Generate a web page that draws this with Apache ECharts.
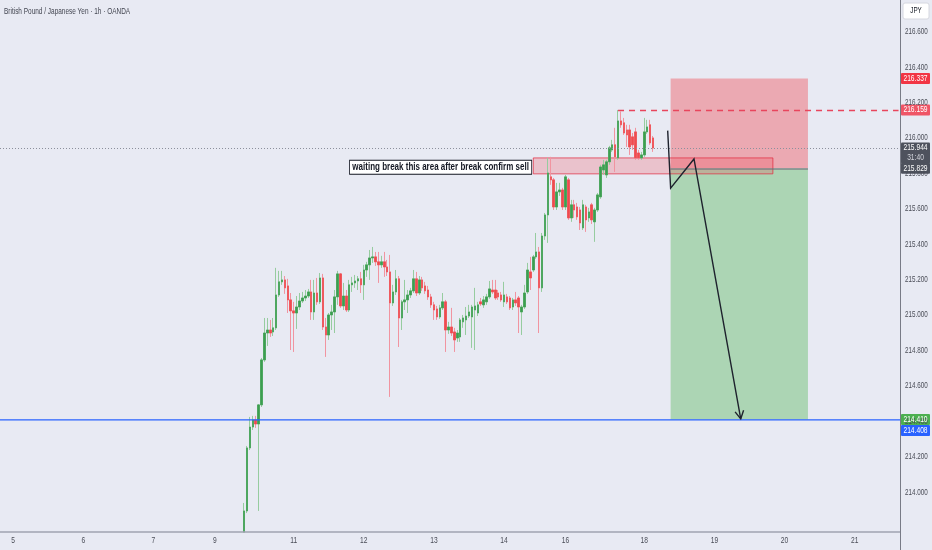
<!DOCTYPE html>
<html><head><meta charset="utf-8">
<script src="https://cdn.jsdelivr.net/npm/echarts@6/dist/echarts.min.js"></script>
<style>html,body{margin:0;padding:0;background:#e8eaf3}#c{width:932px;height:550px}</style>
</head><body><div id="c"></div>
<script>
const FONT = "'Liberation Sans','DejaVu Sans',sans-serif";
const NARROW = 0.74; // horizontal squeeze of the screenshot's text

// ---- time axis (hourly sessions) ----
const sessionDays  = [4, 5, 6, 7, 9, 10, 11, 12, 13, 14, 16, 17, 18, 19, 20, 21];
const sessionStart = [20, 0, 0, 0, 21, 0, 0, 0, 0, 0, 21, 0, 0, 0, 0, 0];
const sessionHours = [4, 24, 24, 21, 3, 24, 24, 24, 24, 21, 3, 24, 24, 24, 24, 16];
const dayTickLabels = ['5','6','7','9','11','12','13','14','16','18','19','20','21'];
const priceTicks = [214.0,214.2,214.4,214.6,214.8,215.0,215.2,215.4,215.6,215.8,216.0,216.2,216.4,216.6];
const firstCandleTime = '10 07:00';

// ---- OHLC (GBP/JPY 1h) ----
const opens = [213.702,213.894,214.250,214.368,214.408,214.385,214.493,214.747,214.899,214.916,214.905,214.928,215.114,215.188,215.199,215.165,215.086,215.024,215.012,215.046,215.080,215.097,215.108,215.131,215.018,215.125,215.075,215.210,214.933,214.888,215.001,215.018,215.103,215.233,215.052,215.108,215.029,215.171,215.182,215.193,215.205,215.171,215.255,215.284,215.323,215.329,215.301,215.284,215.301,215.272,215.244,215.069,215.131,215.205,214.984,215.075,215.086,215.114,215.137,215.205,215.125,215.199,215.165,215.142,215.103,215.058,215.035,214.990,215.041,215.075,214.916,214.933,214.905,214.871,214.877,214.962,214.973,214.995,214.990,215.029,215.012,215.075,215.058,215.075,215.103,215.142,215.142,215.125,215.114,215.075,215.103,215.097,215.046,215.086,215.097,215.018,215.046,215.131,215.244,215.255,215.329,215.357,215.154,215.447,215.566,215.781,215.764,215.611,215.696,215.707,215.611,215.764,215.549,215.623,215.611,215.594,215.493,215.611,215.549,215.623,215.527,215.594,215.668,215.820,215.792,215.866,215.933,215.962,215.888,216.097,216.086,216.046,216.046,216.007,216.035,215.916,215.888,215.905,216.035,216.075,216.001];
const closes = [213.894,214.250,214.368,214.408,214.385,214.493,214.747,214.899,214.916,214.899,214.928,215.114,215.188,215.199,215.154,215.086,215.024,215.012,215.046,215.080,215.097,215.108,215.131,215.018,215.125,215.075,215.210,214.933,214.888,215.001,215.018,215.103,215.233,215.052,215.108,215.029,215.171,215.182,215.193,215.205,215.171,215.255,215.284,215.323,215.329,215.301,215.284,215.301,215.272,215.244,215.069,215.131,215.205,214.984,215.075,215.086,215.114,215.137,215.205,215.125,215.199,215.154,215.137,215.103,215.058,215.029,214.990,215.041,215.075,214.916,214.933,214.899,214.860,214.899,214.973,214.984,214.995,215.018,215.046,215.052,215.058,215.063,215.086,215.103,215.148,215.131,215.097,215.103,215.086,215.114,215.075,215.041,215.086,215.069,215.046,215.046,215.125,215.255,215.210,215.329,215.357,215.154,215.447,215.566,215.803,215.764,215.611,215.696,215.707,215.611,215.781,215.549,215.623,215.594,215.555,215.521,215.623,215.538,215.583,215.538,215.594,215.679,215.837,215.849,215.866,215.945,215.962,215.894,216.097,216.075,216.029,216.018,215.950,215.962,215.888,215.888,215.905,216.035,216.063,215.973,215.944];
const highs = [213.939,214.261,214.425,214.431,214.431,214.498,214.758,214.984,214.984,214.973,214.984,215.267,215.250,215.250,215.221,215.205,215.125,215.075,215.108,215.125,215.131,215.142,215.148,215.199,215.199,215.210,215.238,215.233,214.984,215.012,215.058,215.142,215.250,215.238,215.182,215.142,215.199,215.216,215.227,215.221,215.244,215.284,215.301,215.368,215.385,215.357,215.357,215.335,215.357,215.312,215.340,215.171,215.255,215.221,215.086,215.199,215.142,215.154,215.255,215.244,215.221,215.216,215.188,215.165,215.120,215.075,215.052,215.058,215.125,215.086,214.962,215.041,214.928,214.916,214.984,215.001,215.046,215.058,215.058,215.154,215.075,215.097,215.108,215.120,215.193,215.199,215.199,215.142,215.131,215.188,215.120,215.108,215.097,215.131,215.108,215.058,215.171,215.295,215.329,215.340,215.464,215.385,215.464,215.577,215.888,215.894,215.775,215.747,215.747,215.719,215.792,215.775,215.651,215.651,215.634,215.611,215.651,215.623,215.606,215.634,215.606,215.690,215.849,215.877,215.877,215.956,215.990,216.058,216.159,216.150,216.114,216.075,216.075,216.029,216.058,215.933,215.922,216.114,216.103,216.103,216.012];
const lows = [213.685,213.882,214.238,214.351,214.363,213.894,214.481,214.736,214.826,214.877,214.882,214.916,215.103,215.171,215.120,215.012,214.803,214.792,214.922,215.029,215.069,215.080,215.097,214.973,214.973,215.058,215.063,214.916,214.764,214.860,214.916,214.899,215.058,215.041,215.029,215.018,215.018,215.131,215.154,215.142,215.125,215.086,215.216,215.199,215.295,215.278,215.182,215.267,215.216,215.221,214.538,215.052,215.114,214.820,214.916,215.029,215.012,215.097,215.125,215.108,215.114,215.137,215.120,215.086,215.041,214.973,214.973,214.979,215.029,214.792,214.894,214.882,214.792,214.849,214.849,214.928,214.888,214.984,214.815,214.803,214.995,215.052,215.041,215.058,215.092,215.120,215.086,215.086,215.075,215.046,215.063,215.029,215.029,215.052,214.899,214.888,215.035,215.120,215.142,215.244,215.318,214.899,215.131,215.425,215.408,215.736,215.594,215.594,215.673,215.594,215.594,215.538,215.527,215.549,215.538,215.481,215.481,215.470,215.527,215.515,215.414,215.583,215.657,215.792,215.775,215.849,215.922,215.809,215.877,216.058,216.018,215.950,215.905,215.933,215.877,215.877,215.877,215.894,216.024,215.962,215.922];

// ---- levels & drawings ----
const axisMin = 213.775, axisMax = 216.78;
const riskTop = 216.337, entryPrice = 215.829, targetPrice = 214.410;
const stopLine = 216.159, lastPrice = 215.944, blueLevel = 214.408;
const countdown = '31:40';
const positionStart = '18 09:00', positionEnd = '20 08:00';
const zoneStart = '14 10:00', zoneEnd = '19 20:00', zoneTop = 215.888, zoneBottom = 215.798;
const stopLineStart = '17 15:00';
const noteText = 'waiting break this area after break confirm sell';
const notePrice = 215.835;
const pathTimes = ['18 08:00', '18 09:00', '18 17:00', '19 09:00'];
const pathPrices = [216.042, 215.717, 215.882, 214.414];
const titleText = 'British Pound / Japanese Yen · 1h · OANDA';

// ---- build ----
const categories = [];
const labelIdx = [];
sessionDays.forEach((d, i) => {
  for (let h = 0; h < sessionHours[i]; h++) {
    if (h === 0 && dayTickLabels.includes(String(d))) labelIdx.push(categories.length);
    categories.push(d + ' ' + String(sessionStart[i] + h).padStart(2, '0') + ':00');
  }
});
const start = categories.indexOf(firstCandleTime);
const full = categories.map((c, i) => {
  const k = i - start;
  if (k < 0 || k >= opens.length) return '-';
  return [opens[k], closes[k], lows[k], highs[k]];
});
const bodies = categories.map((c, i) => {
  const k = i - start;
  if (k < 0 || k >= opens.length) return '-';
  return [opens[k], closes[k], Math.min(opens[k], closes[k]), Math.max(opens[k], closes[k])];
});
const lastCat = categories[categories.length - 1];

const chart = echarts.init(document.getElementById('c'));
chart.setOption({
  backgroundColor: '#e8eaf3',
  animation: false,
  grid: { left: 0, right: 32, top: 0, bottom: 18, containLabel: false, outerBoundsMode: 'none' },
  xAxis: {
    type: 'category', data: categories, boundaryGap: true,
    axisLine: { show: false },
    axisTick: { show: false }, splitLine: { show: false }, axisLabel: { show: false }
  },
  yAxis: {
    type: 'value', position: 'right', min: axisMin, max: axisMax, splitNumber: 15,
    axisLine: { show: true, lineStyle: { color: '#787b86', width: 1 } },
    axisTick: { show: false }, splitLine: { show: false }, axisLabel: { show: false }
  },
  series: [
    {
      type: 'candlestick', data: full, barWidth: 2, silent: true, z: 2, clip: true,
      itemStyle: { color: '#96cc9f', color0: '#f194a0', borderColor: '#96cc9f', borderColor0: '#f194a0', borderWidth: 1 }
    },
    {
      type: 'candlestick', data: bodies, barWidth: 2, silent: true, z: 3, clip: true,
      itemStyle: { color: '#3c9e50', color0: '#ee4b4f', borderColor: '#3c9e50', borderColor0: '#ee4b4f', borderWidth: 0.6 },
      markArea: {
        silent: true, label: { show: false },
        data: [
          [{ coord: [positionStart, riskTop], itemStyle: { color: '#eba9b2' } }, { coord: [positionEnd, entryPrice] }],
          [{ coord: [positionStart, entryPrice], itemStyle: { color: '#acd5b4' } }, { coord: [positionEnd, targetPrice] }],
          [{ coord: [zoneStart, zoneTop], itemStyle: { color: 'rgba(242,54,69,0.22)', borderColor: 'rgba(225,45,65,0.75)', borderWidth: 1 } }, { coord: [zoneEnd, zoneBottom] }]
        ]
      },
      markLine: {
        silent: true, symbol: ['none', 'none'], label: { show: false },
        emphasis: { disabled: true },
        data: [
          { yAxis: lastPrice, lineStyle: { color: '#8c909c', width: 1, type: [1, 2] } },
          [{ coord: [stopLineStart, stopLine], lineStyle: { color: '#e8455c', width: 1.3, type: [6, 5] } }, { coord: [lastCat, stopLine] }],
          [{ coord: [positionStart, entryPrice], lineStyle: { color: 'rgba(110,105,120,0.55)', width: 2, type: 'solid' } }, { coord: [positionEnd, entryPrice] }]
        ]
      }
    }
  ]
});

// ---- overlay texts & drawings placed through the library's scales ----
const px = (t, p) => chart.convertToPixel({ gridIndex: 0 }, [categories.indexOf(t), p]);
const py = (p) => chart.convertToPixel({ yAxisIndex: 0 }, p);
const pxIdx = (i) => chart.convertToPixel({ xAxisIndex: 0 }, i);
const G = [];
const txt = (x, y, text, o) => Object.assign({ type: 'text', z: 101, x: x, y: y, scaleX: NARROW,
  style: Object.assign({ text: text, fill: '#4a4d57', font: '8.5px ' + FONT, verticalAlign: 'middle' }, o || {}) });

const gridBottom = py(axisMin);
// time-scale strip (covers the part of the first bar below the pane) + its border line
G.push({ type: 'rect', z: 60, shape: { x: 0, y: gridBottom + 0.5, width: 900, height: 550 - gridBottom }, style: { fill: '#e8eaf3' } });
G.push({ type: 'line', z: 61, shape: { x1: 0, y1: gridBottom, x2: 900, y2: gridBottom }, style: { stroke: '#a0a3b1', lineWidth: 1.5 } });
G.push({ type: 'line', z: 61, shape: { x1: 900.5, y1: gridBottom, x2: 900.5, y2: 550 }, style: { stroke: '#787b86', lineWidth: 1 } });

// blue horizontal level across the pane
G.push({ type: 'line', z: 50, shape: { x1: 0, y1: py(blueLevel), x2: 900, y2: py(blueLevel) }, style: { stroke: '#2962ff', lineWidth: 1.2 } });

// price scale labels
priceTicks.forEach(v => G.push(txt(905, py(v), v.toFixed(3), { align: 'left' })));
// time scale labels
labelIdx.forEach(i => G.push(txt(pxIdx(i), 541, categories[i].split(' ')[0], { align: 'center', font: '9px ' + FONT })));

// price tags
const tagX = 901, tagW = 29;
function tag(price, text, bg, dy, sub) {
  const y = py(price) + (dy || 0);
  G.push({ type: 'rect', z: 100, shape: { x: tagX, y: y - 5.5, width: tagW, height: sub ? 21 : 11, r: 1 }, style: { fill: bg } });
  G.push(txt(tagX + tagW / 2, y, text, { fill: '#ffffff', align: 'center', font: '9px ' + FONT }));
  if (sub) G.push(txt(tagX + tagW / 2, y + 10, sub, { fill: '#d3d5dc', align: 'center', font: '9px ' + FONT }));
}
tag(lastPrice, lastPrice.toFixed(3), '#4e525d', 0, countdown);
tag(entryPrice, entryPrice.toFixed(3), '#4e525d', 0);
tag(riskTop, riskTop.toFixed(3), '#f23645', 0);
tag(stopLine, stopLine.toFixed(3), '#ef5566', 0);
tag(targetPrice, targetPrice.toFixed(3), '#4caf50', 0);
tag(blueLevel, blueLevel.toFixed(3), '#2962ff', 10.5);

// note box
const zoneLeft = px(zoneStart, zoneTop)[0];
G.push(Object.assign(txt(zoneLeft - 2, py(notePrice), noteText, {
  fill: '#131722', font: 'bold 10px ' + FONT, align: 'right',
  backgroundColor: '#ffffff', borderColor: '#131722', borderWidth: 1, padding: [2, 3, 1, 3]
}), { z: 102, scaleX: 0.8 }));

// path with arrow
const pts = pathTimes.map((t, i) => px(t, pathPrices[i]));
G.push({ type: 'polyline', z: 102, shape: { points: pts }, style: { stroke: '#1e222d', lineWidth: 1.4, fill: 'none' } });
const a = pts[pts.length - 2], b = pts[pts.length - 1];
const len = Math.hypot(b[0] - a[0], b[1] - a[1]);
const ux = (b[0] - a[0]) / len, uy = (b[1] - a[1]) / len;
const L = 9, ang = 0.5;
const rot = (s) => [b[0] - L * (ux * Math.cos(s * ang) - uy * Math.sin(s * ang)), b[1] - L * (ux * Math.sin(s * ang) + uy * Math.cos(s * ang))];
G.push({ type: 'polyline', z: 102, shape: { points: [rot(1), b, rot(-1)] }, style: { stroke: '#1e222d', lineWidth: 1.4, fill: 'none' } });

// chrome: title, currency box
G.push(Object.assign(txt(4, 11, titleText, { font: '9.5px ' + FONT, align: 'left', fill: '#434651' }), { scaleX: 0.68 }));
G.push({ type: 'rect', z: 100, shape: { x: 903, y: 3, width: 26, height: 16, r: 2 }, style: { fill: '#ffffff', stroke: '#d6d8e0', lineWidth: 1 } });
G.push(txt(916, 11, 'JPY', { fill: '#131722', align: 'center' }));

chart.setOption({ graphic: { elements: G } });
</script>
</body></html>
